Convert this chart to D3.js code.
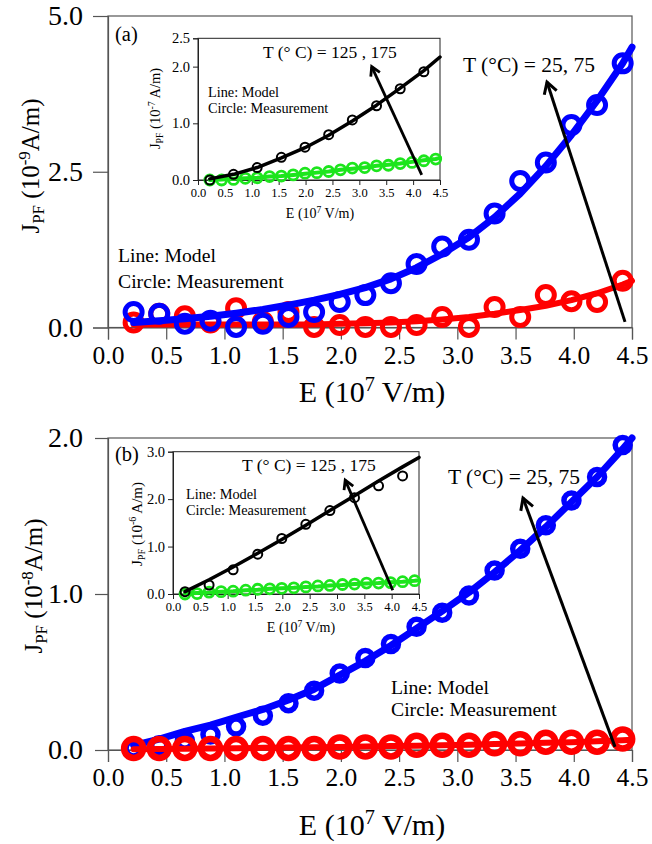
<!DOCTYPE html>
<html>
<head>
<meta charset="utf-8">
<script src="https://cdn.jsdelivr.net/npm/d3@7/dist/d3.min.js"></script>
<style>
  html, body { margin: 0; padding: 0; background: #fff; }
  svg { display: block; }
  text { font-family: "Liberation Serif", "Times New Roman", serif; fill: #000; }
</style>
</head>
<body>
<svg id="fig" width="652" height="844"></svg>
<script>
// Electric field (10^7 V/m) at each measurement
const E = [0.22, 0.44, 0.66, 0.88, 1.10, 1.33, 1.55, 1.77, 1.99, 2.21,
           2.43, 2.65, 2.87, 3.10, 3.32, 3.54, 3.76, 3.98, 4.20, 4.42];
// Model curves are evaluated at the same fields plus the end of the range
const modelE = [...E, 4.5];
// Inset black series uses every other field value
const EInset = [0.22, 0.66, 1.10, 1.55, 1.99, 2.43, 2.87, 3.32, 3.76, 4.20];
const modelEInset = [...EInset, 4.5];

// Panel (a): J_PF in 10^-9 A/m, T = 25 °C (red) and 75 °C (blue)
const aRedMeas   = [0.08, 0.22, 0.18, 0.08, 0.31, 0.09, 0.25, 0.01, 0.04, 0.01,
                    0.01, 0.04, 0.17, 0.01, 0.33, 0.17, 0.52, 0.42, 0.41, 0.75];
const aRedModel  = [0.05, 0.05, 0.05, 0.05, 0.05, 0.05, 0.05, 0.05, 0.06, 0.07,
                    0.08, 0.10, 0.13, 0.17, 0.22, 0.28, 0.35, 0.44, 0.55, 0.69, 0.75];
const aBlueMeas  = [0.25, 0.22, 0.06, 0.11, 0.01, 0.06, 0.17, 0.25, 0.41, 0.52,
                    0.71, 1.02, 1.30, 1.41, 1.83, 2.35, 2.65, 3.25, 3.57, 4.24];
const aBlueModel = [0.08, 0.11, 0.14, 0.18, 0.23, 0.29, 0.36, 0.44, 0.53, 0.64,
                    0.78, 0.96, 1.18, 1.45, 1.77, 2.15, 2.59, 3.09, 3.64, 4.24, 4.50];
// Panel (a) inset: J_PF in 10^-7 A/m, T = 125 °C (green) and 175 °C (black)
const aInGreenMeas  = [0.00, 0.00, 0.01, 0.03, 0.04, 0.06, 0.07, 0.09, 0.12, 0.13,
                       0.15, 0.18, 0.21, 0.22, 0.25, 0.26, 0.29, 0.31, 0.34, 0.37];
const aInGreenModel = [0.00, 0.01, 0.02, 0.03, 0.04, 0.06, 0.07, 0.09, 0.11, 0.13,
                       0.15, 0.18, 0.20, 0.22, 0.25, 0.27, 0.29, 0.32, 0.35, 0.37, 0.39];
const aInBlackMeas  = [0.00, 0.10, 0.22, 0.40, 0.58, 0.80, 1.06, 1.31, 1.61, 1.91];
const aInBlackModel = [0.02, 0.10, 0.22, 0.39, 0.57, 0.79, 1.04, 1.32, 1.62, 1.93, 2.17];

// Panel (b): J_PF in 10^-8 A/m
const bRedMeas   = [0.01, 0.01, 0.01, 0.01, 0.01, 0.01, 0.01, 0.01, 0.02, 0.02,
                    0.02, 0.03, 0.03, 0.03, 0.04, 0.04, 0.05, 0.05, 0.05, 0.07];
const bRedModel  = [0.005, 0.006, 0.008, 0.010, 0.012, 0.014, 0.016, 0.018, 0.020, 0.022,
                    0.025, 0.028, 0.030, 0.034, 0.038, 0.042, 0.046, 0.050, 0.056, 0.063, 0.066];
const bBlueMeas  = [0.01, 0.03, 0.06, 0.10, 0.15, 0.22, 0.30, 0.38, 0.49, 0.59,
                    0.68, 0.79, 0.88, 0.99, 1.15, 1.29, 1.44, 1.60, 1.75, 1.955];
const bBlueModel = [0.03, 0.07, 0.12, 0.16, 0.21, 0.26, 0.32, 0.39, 0.48, 0.57,
                    0.67, 0.78, 0.89, 1.01, 1.14, 1.28, 1.43, 1.59, 1.75, 1.93, 2.00];
// Panel (b) inset: J_PF in 10^-6 A/m
const bInGreenMeas  = [0.00, 0.01, 0.04, 0.05, 0.06, 0.08, 0.10, 0.11, 0.12, 0.13,
                       0.15, 0.17, 0.18, 0.20, 0.21, 0.23, 0.23, 0.24, 0.26, 0.28];
const bInGreenModel = [0.01, 0.02, 0.03, 0.05, 0.06, 0.08, 0.09, 0.11, 0.12, 0.13,
                       0.15, 0.16, 0.18, 0.19, 0.21, 0.22, 0.23, 0.25, 0.26, 0.28, 0.29];
const bInBlackMeas  = [0.05, 0.19, 0.51, 0.84, 1.17, 1.47, 1.76, 2.03, 2.28, 2.49];
const bInBlackModel = [0.05, 0.30, 0.57, 0.86, 1.15, 1.45, 1.76, 2.07, 2.38, 2.68, 2.88];

// Tick values
const xTicks = [0, 0.5, 1, 1.5, 2, 2.5, 3, 3.5, 4, 4.5];
const xMinor = d3.range(0, 4.501, 0.1);
const aYTicks = [0, 2.5, 5];
const aYMinor = [1.25, 3.75];
const bYTicks = [0, 1, 2];
const bYMinor = d3.range(0.1, 2, 0.1);
const aInYTicks = [0, 1, 2, 2.5];
const aInYMinor = d3.range(0.2, 2.5, 0.2);
const bInYTicks = [0, 1, 2, 3];
const bInYMinor = d3.range(0.2, 3, 0.2);

const RED = "#ff0000", BLUE = "#0000ff", GREEN = "#1de51d", BLACK = "#000";
const svg = d3.select("#fig");
const fmt = d3.format(".1f");

function pts(xs, ys) { return xs.map((x, i) => [x, ys[i]]); }

function drawAxes(g, x, y, o) {
  const [x0, x1] = x.range(), [y0, y1] = y.range();
  // frame
  g.append("rect").attr("x", x0).attr("y", y1).attr("width", x1 - x0).attr("height", y0 - y1)
    .attr("fill", "none").attr("stroke", o.frame).attr("stroke-width", o.fw);
  const xa = g.append("g").attr("transform", `translate(0,${y0})`);
  xa.call(d3.axisBottom(x).tickValues(xMinor).tickSize(o.xMinLen).tickFormat(""));
  xa.call(d3.axisBottom(x).tickValues(xTicks).tickSize(o.xMajLen).tickPadding(o.xPad).tickFormat(fmt));
  const ya = g.append("g").attr("transform", `translate(${x0},0)`);
  ya.call(d3.axisLeft(y).tickValues(o.yMinor).tickSize(o.yMinLen).tickFormat(""));
  ya.call(d3.axisLeft(y).tickValues(o.yTicks).tickSize(o.yMajLen).tickPadding(o.yPad).tickFormat(fmt));
  [xa, ya].forEach(a => {
    a.selectAll(".domain").attr("stroke", o.frame).attr("stroke-width", o.fw);
    a.selectAll(".tick line").attr("stroke", o.frame).attr("stroke-width", o.fw);
    a.selectAll(".tick text").attr("fill", "#000");
  });
  xa.selectAll(".tick text").attr("font-size", o.xfs);
  ya.selectAll(".tick text").attr("font-size", o.yfs);
}

function series(g, x, y, mx, my, ex, ey, color, o) {
  const line = d3.line().x(d => x(d[0])).y(d => y(d[1]));
  g.append("path").datum(pts(mx, my)).attr("d", line).attr("fill", "none")
    .attr("stroke", color).attr("stroke-width", o.lw).attr("stroke-linejoin", "round").attr("stroke-linecap", "round");
  g.selectAll(null).data(pts(ex, ey)).join("circle")
    .attr("cx", d => x(d[0])).attr("cy", d => y(d[1])).attr("r", o.r)
    .attr("fill", "none").attr("stroke", color).attr("stroke-width", o.sw);
}

function arrow(g, x1, y1, x2, y2, head, w) {
  g.append("line").attr("x1", x1).attr("y1", y1).attr("x2", x2).attr("y2", y2)
    .attr("stroke", "#000").attr("stroke-width", w);
  const a = Math.atan2(y1 - y2, x1 - x2), s = Math.PI / 6;
  const p = d3.path();
  p.moveTo(x2 + head * Math.cos(a + s), y2 + head * Math.sin(a + s));
  p.lineTo(x2, y2);
  p.lineTo(x2 + head * Math.cos(a - s), y2 + head * Math.sin(a - s));
  g.append("path").attr("d", p.toString()).attr("fill", "none").attr("stroke", "#000")
    .attr("stroke-width", w).attr("stroke-linejoin", "miter");
}

function jTitle(g, cx, cy, fs, exp, spaced) {
  const t = g.append("text").attr("transform", `translate(${cx},${cy}) rotate(-90)`)
    .attr("text-anchor", "middle").attr("font-size", fs);
  t.append("tspan").text("J");
  t.append("tspan").attr("font-size", fs * 0.68).attr("dy", fs * 0.2).text("PF");
  t.append("tspan").attr("dy", -fs * 0.2).text(" (10");
  t.append("tspan").attr("font-size", fs * 0.68).attr("dy", -fs * 0.38).text(exp);
  t.append("tspan").attr("dy", fs * 0.38).text((spaced ? " " : "") + "A/m)");
}

function eTitle(g, cx, cy, fs) {
  const t = g.append("text").attr("x", cx).attr("y", cy).attr("text-anchor", "middle").attr("font-size", fs);
  t.append("tspan").text("E (10");
  t.append("tspan").attr("font-size", fs * 0.68).attr("dy", -fs * 0.38).text("7");
  t.append("tspan").attr("dy", fs * 0.38).text(" V/m)");
}

function label(g, x, y, fs, txt, anchor) {
  g.append("text").attr("x", x).attr("y", y).attr("font-size", fs)
    .attr("text-anchor", anchor || "start").text(txt);
}

const mainStyle = { frame: "#555", fw: 1.2, xMinLen: 5, xMajLen: 12, xPad: 6, yMinLen: 8, yMajLen: 15, yPad: 10, xfs: 25.5, yfs: 28 };
const insetStyle = { frame: "#222", fw: 1, xMinLen: 3, xMajLen: 5, xPad: 3, yMinLen: 3, yMajLen: 5, yPad: 3, xfs: 12.5, yfs: 14.5 };

// ---------- Panel (a) ----------
{
  const g = svg.append("g");
  const x = d3.scaleLinear([0, 4.5], [108, 632]);
  const y = d3.scaleLinear([0, 5], [327.5, 16]);
  drawAxes(g, x, y, Object.assign({}, mainStyle, { yTicks: aYTicks, yMinor: aYMinor }));
  series(g, x, y, modelE, aRedModel, E, aRedMeas, RED, { lw: 6, r: 8.5, sw: 5 });
  series(g, x, y, modelE, aBlueModel, E, aBlueMeas, BLUE, { lw: 7, r: 8.5, sw: 5 });
  arrow(g, x(4.44), y(0.09), x(3.77), y(3.94), 13, 3);
  label(g, 463, 72, 21.5, "T (°C) = 25, 75");
  label(g, 115, 41, 20.5, "(a)");
  label(g, 118, 262, 19.7, "Line: Model");
  label(g, 118, 288, 19.7, "Circle: Measurement");
  jTitle(g, 39, 166, 25, "-9", false);
  eTitle(g, 372, 402, 30);

  // inset
  const xi = d3.scaleLinear([0, 4.5], [198, 440]);
  const yi = d3.scaleLinear([0, 2.5], [180, 38.3]);
  drawAxes(g, xi, yi, Object.assign({}, insetStyle, { yTicks: aInYTicks, yMinor: aInYMinor }));
  series(g, xi, yi, modelE, aInGreenModel, E, aInGreenMeas, GREEN, { lw: 4, r: 5, sw: 2.8 });
  series(g, xi, yi, modelEInset, aInBlackModel, EInset, aInBlackMeas, BLACK, { lw: 3.5, r: 4.5, sw: 2 });
  arrow(g, xi(4.16), yi(0.09), xi(3.23), yi(2.0), 10, 2.8);
  label(g, 263, 58, 17.5, "T (° C) = 125 , 175");
  label(g, 208, 97, 14.3, "Line: Model");
  label(g, 208, 113, 14.3, "Circle: Measurement");
  jTitle(g, 160, 108.5, 14.5, "-7", true);
  eTitle(g, 320, 218, 14);
}

// ---------- Panel (b) ----------
{
  const g = svg.append("g");
  const x = d3.scaleLinear([0, 4.5], [108, 632]);
  const y = d3.scaleLinear([0, 2], [750, 438]);
  drawAxes(g, x, y, Object.assign({}, mainStyle, { yTicks: bYTicks, yMinor: bYMinor, yMinLen: 9, yMajLen: 13, yPad: 12 }));
  series(g, x, y, modelE, bBlueModel, E, bBlueMeas, BLUE, { lw: 7, r: 7.5, sw: 5.5 });
  series(g, x, y, modelE, bRedModel, E, bRedMeas, RED, { lw: 6, r: 9.5, sw: 6.5 });
  arrow(g, x(4.354), y(0.02), x(3.564), y(1.615), 13, 3);
  label(g, 448, 484, 21.5, "T (°C) = 25, 75");
  label(g, 115, 461, 20.5, "(b)");
  label(g, 391, 694, 19.7, "Line: Model");
  label(g, 391, 716, 19.7, "Circle: Measurement");
  jTitle(g, 42, 586, 25, "-8", false);
  eTitle(g, 372, 835, 30);

  // inset
  const xi = d3.scaleLinear([0, 4.5], [173, 419]);
  const yi = d3.scaleLinear([0, 3], [594, 451.7]);
  drawAxes(g, xi, yi, Object.assign({}, insetStyle, { yTicks: bInYTicks, yMinor: bInYMinor }));
  series(g, xi, yi, modelE, bInGreenModel, E, bInGreenMeas, GREEN, { lw: 4, r: 5, sw: 2.8 });
  series(g, xi, yi, modelEInset, bInBlackModel, EInset, bInBlackMeas, BLACK, { lw: 3.5, r: 4.5, sw: 2 });
  arrow(g, xi(4.02), yi(0.08), xi(3.15), yi(2.4), 10, 2.8);
  label(g, 242, 471, 17.5, "T (° C) = 125 , 175");
  label(g, 186, 499, 14.3, "Line: Model");
  label(g, 186, 515, 14.3, "Circle: Measurement");
  jTitle(g, 142, 524, 15, "-6", true);
  eTitle(g, 301, 632, 14);
}
</script>
</body>
</html>
